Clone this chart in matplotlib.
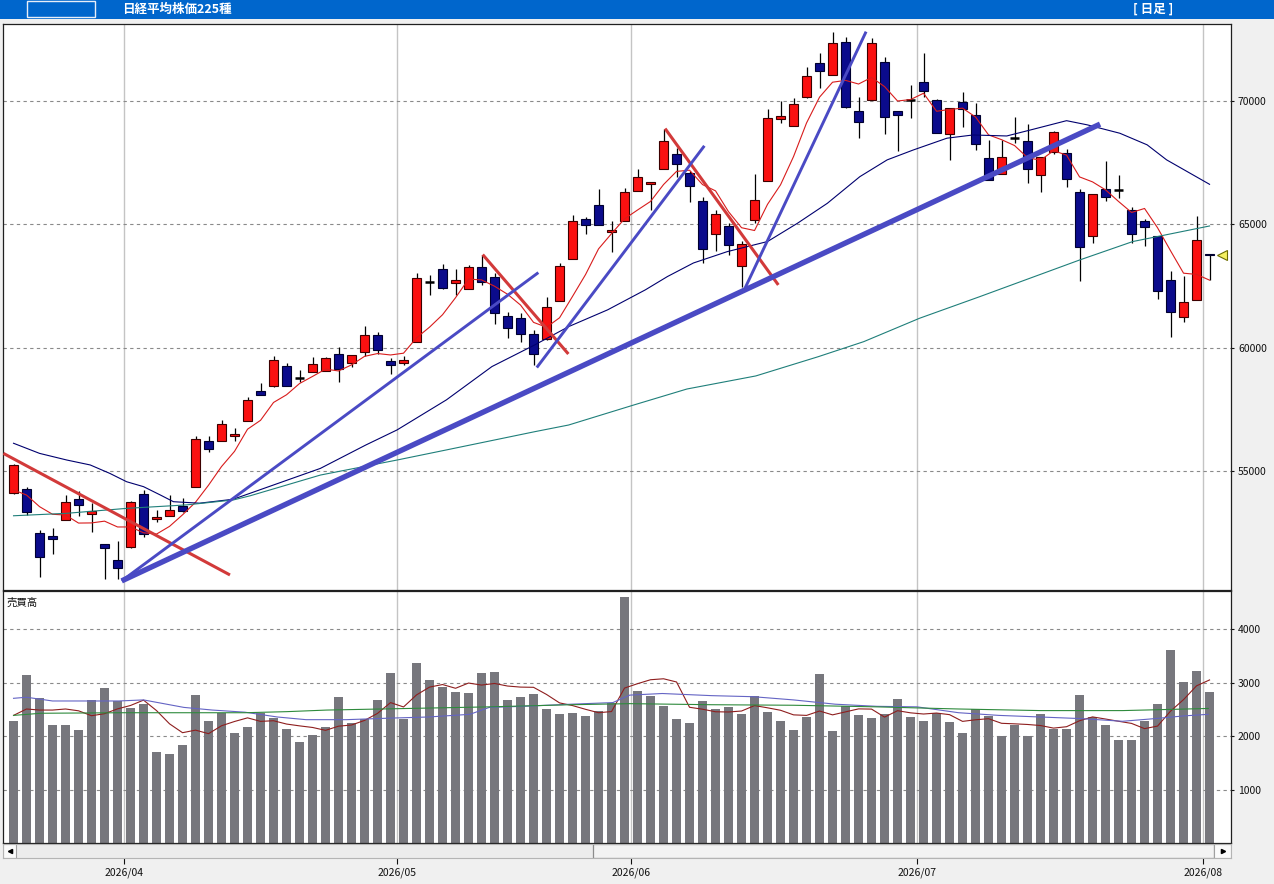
import numpy as np
import pandas as pd
import matplotlib.pyplot as plt
from matplotlib.patches import Rectangle

plt.rcParams['font.family'] = ['Noto Sans CJK JP', 'DejaVu Sans']

# daily candles, index 0 = 2026/03/18 ... index 92 = 2026/08/03
opens = [54100, 54270, 52470, 52360, 53010, 53850, 53240, 52020, 51390, 51930,
         54060, 53040, 53180, 53580, 54360, 56210, 56230, 56420, 57040, 58240,
         58440, 59250, 58780, 59000, 59060, 59730, 59390, 59830, 60510, 59450,
         59360, 60220, 62670, 63190, 62610, 62360, 63260, 62850, 61280, 61200,
         60550, 60340, 61900, 63610, 65220, 65780, 64680, 65120, 66340, 66620,
         67230, 67840, 67070, 65930, 64610, 64920, 63300, 65160, 66760, 69260,
         68970, 70150, 71540, 71040, 72390, 69610, 70050, 71580, 69600, 70040,
         70760, 70040, 68650, 69970, 69430, 67680, 67030, 68510, 68380, 66990,
         67940, 67880, 66300, 64510, 66420, 66380, 65570, 65120, 64530, 62740,
         61230, 61920, 63800]
highs = [55280, 54360, 52600, 52700, 54020, 54190, 53690, 52020, 52160, 53760,
         54230, 53420, 54020, 53890, 56420, 56420, 57070, 56730, 58010, 58550,
         59660, 59360, 59090, 59610, 59630, 60010, 59700, 60880, 60650, 59570,
         59660, 63040, 62940, 63390, 63190, 63350, 63760, 63040, 61460, 61390,
         60710, 62060, 63440, 65380, 65280, 66430, 65120, 66460, 67230, 66730,
         68880, 68080, 67160, 66120, 65580, 65070, 64340, 67040, 69680, 70010,
         70110, 71390, 71960, 72810, 72610, 70170, 72540, 71770, 69600, 70650,
         71960, 70070, 69700, 70370, 69910, 68420, 68420, 69340, 69060, 67720,
         68780, 68040, 66420, 66220, 67570, 67000, 65690, 65230, 64540, 63110,
         62900, 65340, 63800]
lows = [54060, 53210, 50710, 51630, 53010, 53180, 52540, 50600, 50600, 51870,
        52310, 52940, 53180, 53330, 54360, 55760, 56230, 56230, 57040, 58080,
        58420, 58440, 58620, 59000, 59060, 58620, 59230, 59660, 59740, 58930,
        59300, 60220, 62130, 62380, 62130, 62360, 62540, 60960, 60380, 60240,
        59300, 60310, 61900, 63590, 64610, 64960, 63880, 65120, 66340, 65580,
        67230, 66930, 65890, 63420, 63930, 63740, 62450, 65070, 66760, 69100,
        68970, 70110, 70520, 71040, 69720, 68490, 70050, 68650, 67990, 69300,
        70170, 68690, 67610, 68930, 68010, 66800, 67030, 68290, 66660, 66300,
        67850, 66500, 62710, 64230, 65960, 66050, 64230, 64130, 61960, 60440,
        61050, 61920, 62740]
closes = [55240, 53350, 51500, 52230, 53730, 53610, 53380, 51860, 51050, 53730,
          52430, 53120, 53420, 53390, 56290, 55880, 56900, 56500, 57880, 58090,
          59500, 58460, 58780, 59320, 59570, 59130, 59690, 60510, 59890, 59280,
          59490, 62810, 62670, 62410, 62730, 63260, 62650, 61390, 60780, 60540,
          59750, 61660, 63310, 65120, 64960, 64960, 64760, 66300, 66910, 66700,
          68380, 67430, 66540, 63990, 65430, 64150, 64190, 65970, 69310, 69380,
          69880, 71000, 71200, 72340, 69750, 69140, 72340, 69340, 69420, 70040,
          70420, 68690, 69700, 69690, 68240, 66800, 67720, 68510, 67230, 67720,
          68730, 66830, 64090, 66220, 66100, 66380, 64600, 64900, 62310, 61430,
          61840, 64350, 63740]
volumes = [2280, 3140, 2710, 2210, 2210, 2110, 2680, 2900, 2660, 2530,
           2610, 1700, 1660, 1830, 2770, 2280, 2440, 2060, 2170, 2440,
           2340, 2130, 1890, 2020, 2170, 2730, 2240, 2320, 2680, 3180,
           2320, 3370, 3050, 2920, 2830, 2810, 3180, 3200, 2680, 2730,
           2790, 2510, 2410, 2430, 2380, 2470, 2620, 4610, 2840, 2750,
           2560, 2320, 2240, 2660, 2510, 2540, 2410, 2750, 2450, 2280,
           2110, 2360, 3160, 2090, 2560, 2390, 2340, 2410, 2690, 2360,
           2280, 2430, 2260, 2060, 2510, 2380, 2000, 2210, 2000, 2410,
           2140, 2130, 2770, 2360, 2210, 1930, 1930, 2280, 2600, 3610,
           3010, 3220, 2830]

month_pos = [8.5, 29.5, 47.5, 69.5, 91.5]
month_labels = ['2026/04', '2026/05', '2026/06', '2026/07', '2026/08']
price_ticks = [55000, 60000, 65000, 70000]
vol_ticks = [1000, 2000, 3000, 4000]

# first values of the short averages (need days before the window)
ma5_head = [54230, 54020, 53550, 53240]
vma5_head = [2390, 2510, 2490, 2490]

# longer averages
ma25_x = [0, 2.0, 4.1, 5.9, 7.4, 8.7, 10.0, 11.3, 12.3, 14.3, 16.9, 23.6, 27.1,
          29.5, 33.3, 36.8, 40.1, 42.7, 45.7, 48.6, 50.3, 52.3, 54.9, 58.0, 60.3,
          62.6, 65.1, 67.2, 69.2, 71.8, 73.8, 76.4, 78.2, 81.0, 82.6, 85.1, 87.2,
          88.7, 90.5, 92.0]
ma25_y = [56120, 55710, 55440, 55240, 54900, 54560, 54360, 54020, 53750, 53690,
          53850, 55100, 56050, 56660, 57880, 59230, 60110, 60850, 61530, 62340,
          62880, 63430, 63890, 64300, 65040, 65850, 66930, 67610, 68010, 68490,
          68620, 68580, 68820, 69200, 69030, 68690, 68220, 67610, 67070, 66620]
ma75_x = [0, 4.1, 8.7, 13.3, 16.9, 18.2, 23.6, 29.5, 33.3, 40.1, 42.7, 47.7,
          51.8, 57.1, 61.9, 65.4, 69.7, 74.3, 82.0, 86.1, 92.0]
ma75_y = [53180, 53280, 53480, 53620, 53820, 53990, 54830, 55440, 55850, 56590,
          56860, 57670, 58320, 58850, 59630, 60240, 61190, 62060, 63550, 64300,
          64930]
vma25_x = [0, 1.0, 3.0, 8.1, 10.0, 13.1, 15.3, 17.8, 20.3, 22.5, 25.6, 29.1,
           31.9, 35.1, 36.6, 39.2, 42.9, 46.1, 47.4, 49.9, 53.7, 56.9, 60.0,
           63.2, 66.4, 69.5, 72.7, 75.8, 79.0, 82.1, 85.3, 87.8, 90.0, 91.9]
vma25_y = [2710, 2730, 2660, 2660, 2680, 2540, 2490, 2450, 2360, 2310, 2310,
           2340, 2360, 2410, 2540, 2560, 2600, 2630, 2770, 2800, 2760, 2740,
           2680, 2600, 2560, 2550, 2440, 2390, 2360, 2330, 2280, 2330, 2380, 2410]
vma75_x = [0, 2.1, 8.4, 17.8, 21.0, 24.1, 30.4, 36.6, 42.9, 47.4, 53.7, 60.0,
           66.4, 72.7, 79.0, 85.3, 91.9]
vma75_y = [2390, 2430, 2440, 2440, 2460, 2490, 2520, 2550, 2590, 2610, 2590,
           2580, 2550, 2510, 2480, 2480, 2520]

# hand-drawn trend lines: (start index, start price, end index, end price)
trend_red = [(-0.78, 55710, 16.65, 50780),
             (36.09, 63770, 42.68, 59740),
             (50.12, 68880, 58.83, 62540)]
trend_blue = [(8.32, 50540, 40.37, 63040),
              (40.25, 59190, 53.14, 68180),
              (56.27, 62410, 65.58, 72810)]
trend_main = (8.32, 50540, 83.58, 69060)

W, H = 1274, 884
fig = plt.figure(figsize=(W / 100, H / 100), dpi=100)
fig.patch.set_facecolor('#f0f0f0')


def px_axes(x0, y0, x1, y1):
    return fig.add_axes([x0 / W, 1 - y1 / H, (x1 - x0) / W, (y1 - y0) / H])


ax = px_axes(3, 24, 1231, 590)
axv = px_axes(3, 591, 1231, 843)
axs = px_axes(3, 844, 1231, 858)

x = np.arange(len(closes))
o = np.array(opens)
c = np.array(closes)
h = np.array(highs)
l = np.array(lows)
xlim = (-0.81, 93.65)

# ---- price panel ----
for a in (ax, axv):
    a.set_facecolor('white')
    a.set_xlim(*xlim)
    for pos in month_pos:
        a.axvline(pos, color='#c4c4c4', lw=1, zorder=1)
    for s in a.spines.values():
        s.set_color('#202020')
        s.set_linewidth(0.9)
    a.set_xticks([])
    a.yaxis.tick_right()
    a.tick_params(axis='y', length=2.5, pad=2.5, labelsize=7.5, colors='#111111')

ax.set_ylim(50170, 73120)
ax.set_yticks(price_ticks)
ax.set_yticklabels([str(t) for t in price_ticks])
for t in price_ticks:
    ax.axhline(t, color='#8a8a8a', lw=0.8, ls=(0, (3, 3)), zorder=1)

up = c > o
dn = c < o
fl = c == o
bw = 0.76
ax.vlines(x, l, h, color='black', lw=0.9, zorder=2)
ax.bar(x[up], (c - o)[up], bottom=o[up], width=bw, color='#fa1010',
       edgecolor='#3c0000', lw=0.8, zorder=3)
ax.bar(x[dn], (o - c)[dn], bottom=c[dn], width=bw, color='#0b0b8c',
       edgecolor='#000030', lw=0.8, zorder=3)
ax.hlines(c[fl], x[fl] - bw / 2, x[fl] + bw / 2, color='black', lw=1.8, zorder=3)

ma5 = pd.Series(closes, dtype=float).rolling(5).mean()
ma5.iloc[:4] = ma5_head
ax.plot(x, ma5, color='#d81c1c', lw=0.8, zorder=4)
ax.plot(ma25_x, ma25_y, color='#00006e', lw=0.8, zorder=4)
ax.plot(ma75_x, ma75_y, color='#1f7f7a', lw=0.8, zorder=4)

for x0, y0, x1, y1 in trend_red:
    ax.plot([x0, x1], [y0, y1], color='#d23a3a', lw=2.2, solid_capstyle='butt', zorder=5)
for x0, y0, x1, y1 in trend_blue:
    ax.plot([x0, x1], [y0, y1], color='#4a4ac4', lw=2.1, solid_capstyle='butt', zorder=5)
ax.plot([trend_main[0], trend_main[2]], [trend_main[1], trend_main[3]],
        color='#4a4ac4', lw=3.9, solid_capstyle='butt', zorder=5)

ax.plot(x[-1] + 0.95, c[-1], marker='<', ms=6.5, mfc='#f4f060', mec='#6c6c00',
        mew=0.8, clip_on=False, zorder=6)

# ---- volume panel ----
axv.set_ylim(0, 4720)
axv.set_yticks(vol_ticks)
axv.set_yticklabels([str(t) for t in vol_ticks])
for t in vol_ticks:
    axv.axhline(t, color='#8a8a8a', lw=0.8, ls=(0, (3, 3)), zorder=1)
axv.bar(x, volumes, width=0.68, color='#77777d', zorder=2)
vma5 = pd.Series(volumes, dtype=float).rolling(5).mean()
vma5.iloc[:4] = vma5_head
axv.plot(x, vma5, color='#8e1e1e', lw=0.8, zorder=3)
axv.plot(vma25_x, vma25_y, color='#6464c4', lw=0.8, zorder=3)
axv.plot(vma75_x, vma75_y, color='#2e8a3c', lw=0.8, zorder=3)
axv.text(0.003, 0.975, '売買高', transform=axv.transAxes, fontsize=7.5,
         va='top', ha='left', color='#111111')

# ---- scroll bar with month labels ----
axs.set_facecolor('#ececec')
axs.set_xlim(*xlim)
axs.set_ylim(0, 1)
axs.set_yticks([])
axs.set_xticks(month_pos)
axs.set_xticklabels(month_labels)
axs.tick_params(axis='x', length=4, pad=3, labelsize=7.5, colors='#111111')
for s in axs.spines.values():
    s.set_color('#b4b4b4')
    s.set_linewidth(0.8)
axs.add_patch(Rectangle((0.4805, 0.02), 0.5057, 0.96, transform=axs.transAxes,
                        facecolor='#f3f3f3', edgecolor='#8c8c8c', lw=0.9))
axs.add_patch(Rectangle((0, 0), 0.0106, 1, transform=axs.transAxes,
                        facecolor='#fbfbfb', edgecolor='#a0a0a0', lw=0.8))
axs.add_patch(Rectangle((0.9862, 0), 0.0138, 1, transform=axs.transAxes,
                        facecolor='#fbfbfb', edgecolor='#a0a0a0', lw=0.8))
axs.plot(0.0053, 0.5, marker='<', ms=3, color='black', transform=axs.transAxes)
axs.plot(0.9931, 0.5, marker='>', ms=3, color='black', transform=axs.transAxes)

# ---- title bar ----
fig.patches.append(Rectangle((0, 1 - 19 / H), 1, 19 / H, transform=fig.transFigure,
                             facecolor='#0066cc', edgecolor='none'))
fig.patches.append(Rectangle((27 / W, 1 - 16.5 / H), 68 / W, 15 / H,
                             transform=fig.transFigure, facecolor='none',
                             edgecolor='#e8eef8', lw=1))
fig.text(122 / W, 1 - 9.5 / H, '日経平均株価225種', color='white', fontsize=9,
         fontweight='bold', va='center', ha='left')
fig.text(1133 / W, 1 - 9.5 / H, '[ 日足 ]', color='white', fontsize=9,
         fontweight='bold', va='center', ha='left')

fig.savefig('out.png', dpi=100, facecolor=fig.get_facecolor())
